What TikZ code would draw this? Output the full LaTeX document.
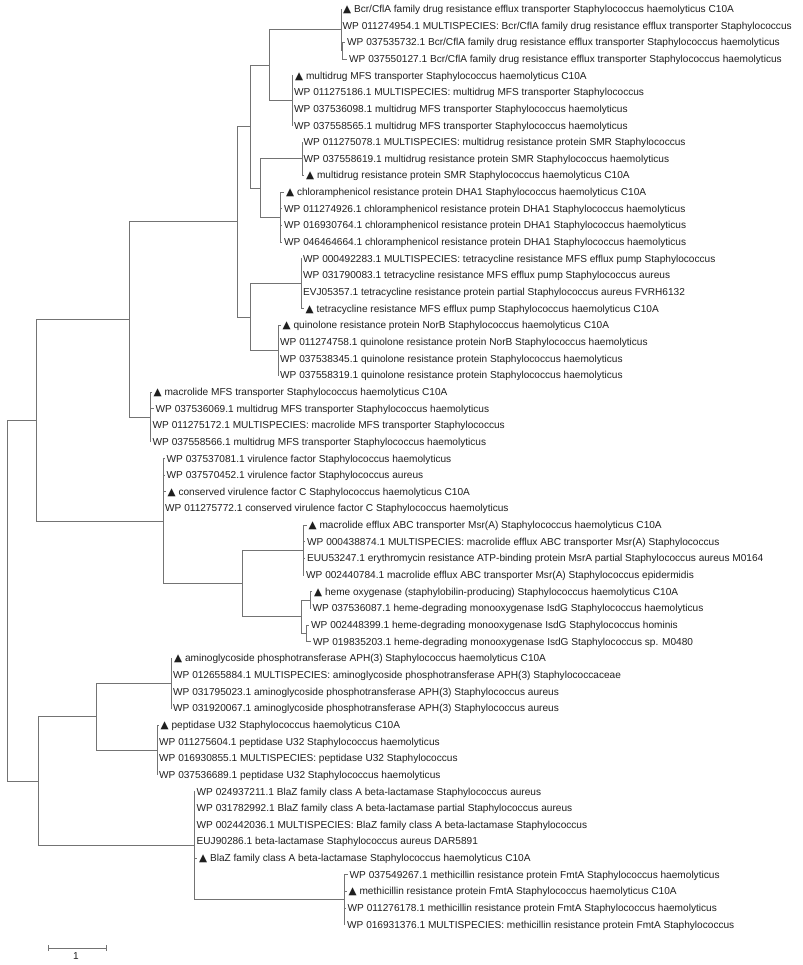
\documentclass[tikz,border=0pt]{standalone}
\usepackage{fontspec}
\setmainfont{Liberation Sans}
\newfontfamily\trifont{DejaVu Sans}
\newcommand{\tri}{{\trifont\fontsize{10.5}{12}\selectfont ▲}}
\tikzset{
  leaf/.style={anchor=west,inner sep=1.5pt,text height=7pt,text depth=0pt,text=black!88},
  branch/.style={draw=black!55,line width=.8pt}
}
\begin{document}
\begin{tikzpicture}[x=1pt,y=-16.65pt,font=\fontsize{10.1}{12}\selectfont]

\useasboundingbox (0,-0.5405) rectangle (803,57.42);

\node[leaf] (l1) at (341.5,0) {\tri\ Bcr/CflA family drug resistance efflux transporter Staphylococcus haemolyticus C10A};
\node[leaf] (l2) at (341,1) {WP 011274954.1 MULTISPECIES: Bcr/CflA family drug resistance efflux transporter Staphylococcus};
\node[leaf] (l3) at (345.5,2) {WP 037535732.1 Bcr/CflA family drug resistance efflux transporter Staphylococcus haemolyticus};
\node[leaf] (l4) at (347.5,3) {WP 037550127.1 Bcr/CflA family drug resistance efflux transporter Staphylococcus haemolyticus};
\node[leaf] (l5) at (293.5,4) {\tri\ multidrug MFS transporter Staphylococcus haemolyticus C10A};
\node[leaf] (l6) at (292.5,5) {WP 011275186.1 MULTISPECIES: multidrug MFS transporter Staphylococcus};
\node[leaf] (l7) at (292.5,6) {WP 037536098.1 multidrug MFS transporter Staphylococcus haemolyticus};
\node[leaf] (l8) at (292.5,7) {WP 037558565.1 multidrug MFS transporter Staphylococcus haemolyticus};
\node[leaf] (l9) at (302,8) {WP 011275078.1 MULTISPECIES: multidrug resistance protein SMR Staphylococcus};
\node[leaf] (l10) at (302,9) {WP 037558619.1 multidrug resistance protein SMR Staphylococcus haemolyticus};
\node[leaf] (l11) at (304.5,10) {\tri\ multidrug resistance protein SMR Staphylococcus haemolyticus C10A};
\node[leaf] (l12) at (284.5,11) {\tri\ chloramphenicol resistance protein DHA1 Staphylococcus haemolyticus C10A};
\node[leaf] (l13) at (282.5,12) {WP 011274926.1 chloramphenicol resistance protein DHA1 Staphylococcus haemolyticus};
\node[leaf] (l14) at (282.5,13) {WP 016930764.1 chloramphenicol resistance protein DHA1 Staphylococcus haemolyticus};
\node[leaf] (l15) at (282.5,14) {WP 046464664.1 chloramphenicol resistance protein DHA1 Staphylococcus haemolyticus};
\node[leaf] (l16) at (301.5,15) {WP 000492283.1 MULTISPECIES: tetracycline resistance MFS efflux pump Staphylococcus};
\node[leaf] (l17) at (301.5,16) {WP 031790083.1 tetracycline resistance MFS efflux pump Staphylococcus aureus};
\node[leaf] (l18) at (301.5,17) {EVJ05357.1 tetracycline resistance protein partial Staphylococcus aureus FVRH6132};
\node[leaf] (l19) at (304,18) {\tri\ tetracycline resistance MFS efflux pump Staphylococcus haemolyticus C10A};
\node[leaf] (l20) at (281,19) {\tri\ quinolone resistance protein NorB Staphylococcus haemolyticus C10A};
\node[leaf] (l21) at (278.5,20) {WP 011274758.1 quinolone resistance protein NorB Staphylococcus haemolyticus};
\node[leaf] (l22) at (278.5,21) {WP 037538345.1 quinolone resistance protein Staphylococcus haemolyticus};
\node[leaf] (l23) at (278.5,22) {WP 037558319.1 quinolone resistance protein Staphylococcus haemolyticus};
\node[leaf] (l24) at (152,23) {\tri\ macrolide MFS transporter Staphylococcus haemolyticus C10A};
\node[leaf] (l25) at (154,24) {WP 037536069.1 multidrug MFS transporter Staphylococcus haemolyticus};
\node[leaf] (l26) at (151,25) {WP 011275172.1 MULTISPECIES: macrolide MFS transporter Staphylococcus};
\node[leaf] (l27) at (151,26) {WP 037558566.1 multidrug MFS transporter Staphylococcus haemolyticus};
\node[leaf] (l28) at (165,27) {WP 037537081.1 virulence factor Staphylococcus haemolyticus};
\node[leaf] (l29) at (165,28) {WP 037570452.1 virulence factor Staphylococcus aureus};
\node[leaf] (l30) at (166,29) {\tri\ conserved virulence factor C Staphylococcus haemolyticus C10A};
\node[leaf] (l31) at (163.5,30) {WP 011275772.1 conserved virulence factor C Staphylococcus haemolyticus};
\node[leaf] (l32) at (307,31) {\tri\ macrolide efflux ABC transporter Msr(A) Staphylococcus haemolyticus C10A};
\node[leaf] (l33) at (305.5,32) {WP 000438874.1 MULTISPECIES: macrolide efflux ABC transporter Msr(A) Staphylococcus};
\node[leaf] (l34) at (305.5,33) {EUU53247.1 erythromycin resistance ATP-binding protein MsrA partial Staphylococcus aureus M0164};
\node[leaf] (l35) at (304.5,34) {WP 002440784.1 macrolide efflux ABC transporter Msr(A) Staphylococcus epidermidis};
\node[leaf] (l36) at (312.5,35) {\tri\ heme oxygenase (staphylobilin-producing) Staphylococcus haemolyticus C10A};
\node[leaf] (l37) at (311,36) {WP 037536087.1 heme-degrading monooxygenase IsdG Staphylococcus haemolyticus};
\node[leaf] (l38) at (309.5,37) {WP 002448399.1 heme-degrading monooxygenase IsdG Staphylococcus hominis};
\node[leaf] (l39) at (311.5,38) {WP 019835203.1 heme-degrading monooxygenase IsdG Staphylococcus sp. M0480};
\node[leaf] (l40) at (172.5,39) {\tri\ aminoglycoside phosphotransferase APH(3) Staphylococcus haemolyticus C10A};
\node[leaf] (l41) at (171.5,40) {WP 012655884.1 MULTISPECIES: aminoglycoside phosphotransferase APH(3) Staphylococcaceae};
\node[leaf] (l42) at (171.5,41) {WP 031795023.1 aminoglycoside phosphotransferase APH(3) Staphylococcus aureus};
\node[leaf] (l43) at (171.5,42) {WP 031920067.1 aminoglycoside phosphotransferase APH(3) Staphylococcus aureus};
\node[leaf] (l44) at (159,43) {\tri\ peptidase U32 Staphylococcus haemolyticus C10A};
\node[leaf] (l45) at (157.5,44) {WP 011275604.1 peptidase U32 Staphylococcus haemolyticus};
\node[leaf] (l46) at (157.5,45) {WP 016930855.1 MULTISPECIES: peptidase U32 Staphylococcus};
\node[leaf] (l47) at (157.5,46) {WP 037536689.1 peptidase U32 Staphylococcus haemolyticus};
\node[leaf] (l48) at (195,47) {WP 024937211.1 BlaZ family class A beta-lactamase Staphylococcus aureus};
\node[leaf] (l49) at (195,48) {WP 031782992.1 BlaZ family class A beta-lactamase partial Staphylococcus aureus};
\node[leaf] (l50) at (195,49) {WP 002442036.1 MULTISPECIES: BlaZ family class A beta-lactamase Staphylococcus};
\node[leaf] (l51) at (195,50) {EUJ90286.1 beta-lactamase Staphylococcus aureus DAR5891};
\node[leaf] (l52) at (197.5,51) {\tri\ BlaZ family class A beta-lactamase Staphylococcus haemolyticus C10A};
\node[leaf] (l53) at (348,52) {WP 037549267.1 methicillin resistance protein FmtA Staphylococcus haemolyticus};
\node[leaf] (l54) at (347,53) {\tri\ methicillin resistance protein FmtA Staphylococcus haemolyticus C10A};
\node[leaf] (l55) at (346,54) {WP 011276178.1 methicillin resistance protein FmtA Staphylococcus haemolyticus};
\node[leaf] (l56) at (345.5,55) {WP 016931376.1 MULTISPECIES: methicillin resistance protein FmtA Staphylococcus};

\coordinate (bcr2) at (342,2.5);
\coordinate (bcr) at (341,1.25);
\coordinate (mfs) at (292,5.5);
\coordinate (a) at (269,3.375);
\coordinate (smr) at (302,9);
\coordinate (dha) at (280.5,12.5);
\coordinate (c) at (260,10.75);
\coordinate (b) at (250,7.0625);
\coordinate (tet) at (301,16.5);
\coordinate (qnr) at (278,20.5);
\coordinate (e) at (250,18.5);
\coordinate (d) at (237,12.78125);
\coordinate (mac) at (150,24.5);
\coordinate (f) at (129,18.640625);
\coordinate (msr) at (303.5,32.5);
\coordinate (hem1) at (310,35.5);
\coordinate (hem2) at (306,37.5);
\coordinate (hem) at (301,36.5);
\coordinate (i) at (242,34.5);
\coordinate (h) at (163,30.75);
\coordinate (g) at (36,24.6953);
\coordinate (aph) at (171,40.5);
\coordinate (pep) at (157,44.5);
\coordinate (j) at (96,42.5);
\coordinate (fmt) at (344,53.5);
\coordinate (bla) at (194,50.25);
\coordinate (k) at (38,46.375);
\coordinate (root) at (7,35.535);

\draw[branch] (bcr2) |- (l3.west) (bcr2) |- (l4.west);
\draw[branch] (bcr) |- (l1.west) (bcr) |- (l2.west) (bcr) |- (bcr2);
\draw[branch] (mfs) |- (l5.west) (mfs) |- (l6.west) (mfs) |- (l7.west) (mfs) |- (l8.west);
\draw[branch] (a) |- (bcr) (a) |- (mfs);
\draw[branch] (smr) |- (l9.west) (smr) |- (l10.west) (smr) |- (l11.west);
\draw[branch] (dha) |- (l12.west) (dha) |- (l13.west) (dha) |- (l14.west) (dha) |- (l15.west);
\draw[branch] (c) |- (smr) (c) |- (dha);
\draw[branch] (b) |- (a) (b) |- (c);
\draw[branch] (tet) |- (l16.west) (tet) |- (l17.west) (tet) |- (l18.west) (tet) |- (l19.west);
\draw[branch] (qnr) |- (l20.west) (qnr) |- (l21.west) (qnr) |- (l22.west) (qnr) |- (l23.west);
\draw[branch] (e) |- (tet) (e) |- (qnr);
\draw[branch] (d) |- (b) (d) |- (e);
\draw[branch] (mac) |- (l24.west) (mac) |- (l25.west) (mac) |- (l26.west) (mac) |- (l27.west);
\draw[branch] (f) |- (d) (f) |- (mac);
\draw[branch] (msr) |- (l32.west) (msr) |- (l33.west) (msr) |- (l34.west) (msr) |- (l35.west);
\draw[branch] (hem1) |- (l36.west) (hem1) |- (l37.west);
\draw[branch] (hem2) |- (l38.west) (hem2) |- (l39.west);
\draw[branch] (hem) |- (hem1) (hem) |- (hem2);
\draw[branch] (i) |- (msr) (i) |- (hem);
\draw[branch] (h) |- (l28.west) (h) |- (l29.west) (h) |- (l30.west) (h) |- (l31.west) (h) |- (i);
\draw[branch] (g) |- (f) (g) |- (h);
\draw[branch] (aph) |- (l40.west) (aph) |- (l41.west) (aph) |- (l42.west) (aph) |- (l43.west);
\draw[branch] (pep) |- (l44.west) (pep) |- (l45.west) (pep) |- (l46.west) (pep) |- (l47.west);
\draw[branch] (j) |- (aph) (j) |- (pep);
\draw[branch] (fmt) |- (l53.west) (fmt) |- (l54.west) (fmt) |- (l55.west) (fmt) |- (l56.west);
\draw[branch] (bla) |- (l48.west) (bla) |- (l49.west) (bla) |- (l50.west) (bla) |- (l51.west) (bla) |- (l52.west) (bla) |- (fmt);
\draw[branch] (k) |- (j) (k) |- (bla);
\draw[branch] (root) |- (g) (root) |- (k);

\coordinate (s1) at (48,56.4);
\coordinate (s2) at (106,56.4);
\draw[branch] (s1) -- (s2);
\draw[branch] ([yshift=-3pt]s1) -- ([yshift=3pt]s1);
\draw[branch] ([yshift=-3pt]s2) -- ([yshift=3pt]s2);
\node[text=black!88,inner sep=0pt] (unit) at (76,56.88) {1};

\end{tikzpicture}
\end{document}
